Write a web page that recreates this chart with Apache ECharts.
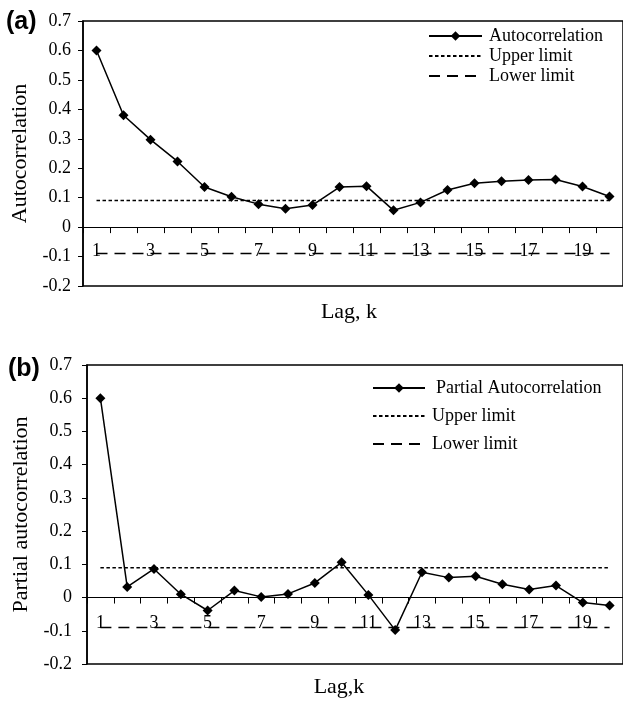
<!DOCTYPE html>
<html>
<head>
<meta charset="utf-8">
<script src="https://cdn.jsdelivr.net/npm/echarts@6/dist/echarts.min.js"></script>
<style>
  html, body { margin: 0; padding: 0; background: #fff; }
  #chart { width: 623px; height: 703px; }
</style>
</head>
<body>
<div id="chart"></div>
<script>
// lags 1..20
var lags = ['1', '2', '3', '4', '5', '6', '7', '8', '9', '10',
    '11', '12', '13', '14', '15', '16', '17', '18', '19', '20'];

// (a) autocorrelation
var acf = [0.600, 0.380, 0.297, 0.223, 0.136, 0.103, 0.078, 0.062, 0.075, 0.136,
    0.139, 0.057, 0.084, 0.126, 0.149, 0.156, 0.160, 0.162, 0.138, 0.104];

// (b) partial autocorrelation
var pacf = [0.600, 0.032, 0.086, 0.010, -0.039, 0.021, 0.002, 0.011, 0.044, 0.106,
    0.008, -0.098, 0.076, 0.060, 0.064, 0.040, 0.024, 0.036, -0.015, -0.024];

// confidence limits
var upper = [0.09, 0.09, 0.09, 0.09, 0.09, 0.09, 0.09, 0.09, 0.09, 0.09,
    0.09, 0.09, 0.09, 0.09, 0.09, 0.09, 0.09, 0.09, 0.09, 0.09];
var lower = [-0.09, -0.09, -0.09, -0.09, -0.09, -0.09, -0.09, -0.09, -0.09, -0.09,
    -0.09, -0.09, -0.09, -0.09, -0.09, -0.09, -0.09, -0.09, -0.09, -0.09];

var serif = 'Liberation Serif';

function xAxisFor(idx, name, labelMargin, nameGap, namePad) {
    return {
        type: 'category',
        gridIndex: idx,
        data: lags,
        name: name,
        nameLocation: 'middle',
        nameGap: nameGap,
        nameTextStyle: { fontFamily: serif, fontSize: 22, color: '#000', padding: namePad },
        axisLine: { show: true, onZero: true, lineStyle: { color: '#000', width: 1 } },
        axisTick: { show: true, interval: 0, length: 6, lineStyle: { color: '#000', width: 1 } },
        axisLabel: { interval: 1, margin: labelMargin, fontFamily: serif, fontSize: 18, color: '#000' },
        splitLine: { show: false }
    };
}

function yAxisFor(idx, name, nameGap, labelMargin) {
    return {
        type: 'value',
        gridIndex: idx,
        min: -0.2,
        max: 0.7,
        interval: 0.1,
        name: name,
        nameLocation: 'middle',
        nameGap: nameGap,
        nameTextStyle: { fontFamily: serif, fontSize: 22, color: '#000' },
        axisLine: { show: true, lineStyle: { color: '#000', width: 1.5 } },
        axisTick: { show: true, length: 5, lineStyle: { color: '#000' } },
        axisLabel: {
            margin: labelMargin, fontFamily: serif, fontSize: 18, color: '#000',
            formatter: function(v) {
                return Math.abs(v) < 1e-9 ? '0' : v.toFixed(1);
            }
        },
        splitLine: { show: false }
    };
}

function mainSeries(name, data, idx) {
    return {
        name: name, type: 'line', xAxisIndex: idx, yAxisIndex: idx,
        data: data,
        symbol: 'diamond', symbolSize: 10,
        itemStyle: { color: '#000' },
        lineStyle: { color: '#000', width: 1.5 },
        z: 5
    };
}

function limitSeries(name, data, idx, dash) {
    return {
        name: name, type: 'line', xAxisIndex: idx, yAxisIndex: idx,
        data: data,
        symbol: 'none',
        itemStyle: { color: '#000' },
        lineStyle: { color: '#000', width: 1.5, type: dash }
    };
}

var chart = echarts.init(document.getElementById('chart'));

var noSymbol = { opacity: 0 };

var option = {
    animation: false,
    backgroundColor: '#fff',
    textStyle: { fontFamily: serif, color: '#000' },
    grid: [
        { left: 83, top: 21, width: 541, height: 265, show: true, borderColor: '#000', borderWidth: 1.5 },
        { left: 87, top: 365, width: 540, height: 299, show: true, borderColor: '#000', borderWidth: 1.5 }
    ],
    graphic: [
        { type: 'text', left: 6, top: 10, style: { text: '(a)', font: 'bold 25px "Liberation Sans", Arial', fill: '#000' } },
        { type: 'text', left: 8, top: 357, style: { text: '(b)', font: 'bold 25px "Liberation Sans", Arial', fill: '#000' } }
    ],
    legend: [
        {
            orient: 'vertical', left: 423, top: 22, itemWidth: 53, itemHeight: 12, itemGap: 2,
            textStyle: { fontFamily: serif, fontSize: 18, color: '#000', padding: [0, 0, 0, 2] },
            data: [
                'Autocorrelation',
                { name: 'Upper limit', itemStyle: noSymbol },
                { name: 'Lower limit', itemStyle: noSymbol }
            ]
        },
        {
            orient: 'vertical', left: 367, top: 374, itemWidth: 52, itemHeight: 12, itemGap: 10,
            textStyle: { fontFamily: serif, fontSize: 18, color: '#000', padding: [0, 0, 0, 2] },
            data: [
                { name: 'Partial Autocorrelation', textStyle: { padding: [0, 0, 0, 6] } },
                { name: 'Upper limit ', itemStyle: noSymbol },
                { name: 'Lower limit ', itemStyle: noSymbol }
            ]
        }
    ],
    xAxis: [
        xAxisFor(0, 'Lag, k', -44, 15, [0, 8, 0, 0]),
        xAxisFor(1, 'Lag,k', -50, 12, [0, 32, 0, 0])
    ],
    yAxis: [
        yAxisFor(0, 'Autocorrelation', 45, 12),
        yAxisFor(1, 'Partial autocorrelation', 50, 15)
    ],
    series: [
        mainSeries('Autocorrelation', acf, 0),
        limitSeries('Upper limit', upper, 0, [3.5, 2.5]),
        limitSeries('Lower limit', lower, 0, [11, 7]),
        mainSeries('Partial Autocorrelation', pacf, 1),
        limitSeries('Upper limit ', upper, 1, [3.5, 2.5]),
        limitSeries('Lower limit ', lower, 1, [11, 7])
    ]
};

chart.setOption(option);
</script>
</body>
</html>
